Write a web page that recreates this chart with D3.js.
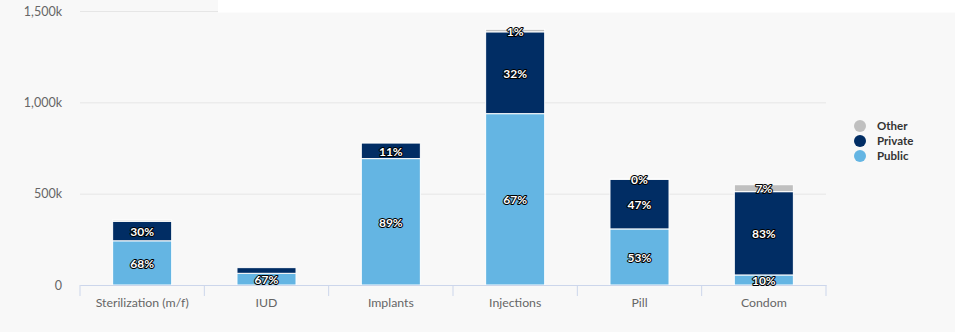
<!DOCTYPE html>
<html>
<head>
<meta charset="utf-8">
<script src="https://cdn.jsdelivr.net/npm/d3@7/dist/d3.min.js"></script>
<style>
  html, body { margin: 0; padding: 0; background: #f8f8f8; }
  svg { display: block; font-family: "Lato", "Open Sans", sans-serif; }
</style>
</head>
<body>
<svg id="chart" width="955" height="332"></svg>
<script>
// Contraceptive method users by source (thousands)
const categories = ["Sterilization (m/f)", "IUD", "Implants", "Injections", "Pill", "Condom"];
const publicValues  = [242, 64, 692, 938, 307, 55];
const privateValues = [107, 31, 85, 448, 272, 456];
const otherValues   = [7, 0, 0, 14, 1, 38];
const yTicks = [0, 500, 1000, 1500];

const seriesNames = ["Public", "Private", "Other"];
const colors = { Public: "#64b5e3", Private: "#012d64", Other: "#c0c0c0" };

const rows = categories.map((c, i) => ({
  category: c,
  Public: publicValues[i],
  Private: privateValues[i],
  Other: otherValues[i]
}));

const svg = d3.select("#chart");
const W = 955, H = 332;
const plotLeft = 80, plotRight = 826, plotTop = 11, plotBottom = 285;

svg.append("rect").attr("width", W).attr("height", H).attr("fill", "#f8f8f8");

const x = d3.scaleBand().domain(categories).range([plotLeft, plotRight]).padding(0);
const y = d3.scaleLinear().domain([0, 1500]).range([plotBottom, plotTop]);

// Horizontal grid lines and y tick labels
const fmt = v => v === 0 ? "0" : d3.format(",")(v) + "k";
const yAxis = svg.append("g")
  .attr("transform", `translate(${plotLeft},0)`)
  .call(d3.axisLeft(y).tickValues(yTicks).tickSize(-(plotRight - plotLeft)).tickPadding(18).tickFormat(fmt));
yAxis.select(".domain").remove();
yAxis.selectAll(".tick line").attr("stroke", "#e6e6e6").attr("stroke-width", 1);
yAxis.selectAll(".tick text")
  .attr("fill", "#666").attr("font-size", "12.5px").attr("font-family", "Lato, sans-serif");

// Stacked bars
const stack = d3.stack().keys(seriesNames);
const layers = stack(rows);
const barFrac = 0.475;
const bw = x.bandwidth() * barFrac;
const bx = d => x(d.data.category) + (x.bandwidth() - bw) / 2;

const barG = svg.append("g");
layers.forEach(layer => {
  barG.selectAll(null)
    .data(layer.filter(d => d[1] - d[0] > 0))
    .join("rect")
    .attr("x", bx)
    .attr("width", bw)
    .attr("y", d => y(d[1]))
    .attr("height", d => y(d[0]) - y(d[1]))
    .attr("fill", colors[layer.key])
    .attr("stroke", "#fff")
    .attr("stroke-width", 1);
});

// White band across the top right
svg.append("rect").attr("x", 218).attr("y", 0).attr("width", W - 218).attr("height", 12.5).attr("fill", "#fff");

// X axis
const xAxis = svg.append("g")
  .attr("transform", `translate(0,${plotBottom})`)
  .call(d3.axisBottom(x).tickSize(0).tickPadding(13));
xAxis.select(".domain").attr("stroke", "#ccd6eb");
xAxis.selectAll(".tick text")
  .attr("fill", "#666").attr("font-size", "12.3px").attr("font-family", "Lato, sans-serif");
// boundary tick marks between categories
const bounds = categories.map(c => x(c)).concat([plotRight]);
xAxis.selectAll(".bound")
  .data(bounds)
  .join("line")
  .attr("class", "bound")
  .attr("x1", d => d).attr("x2", d => d)
  .attr("y1", 0).attr("y2", 11)
  .attr("stroke", "#ccd6eb");

// Percentage labels, larger segments first, skip overlaps
const labels = [];
layers.forEach(layer => {
  layer.forEach((d, i) => {
    const v = d[1] - d[0];
    const total = publicValues[i] + privateValues[i] + otherValues[i];
    if (v <= 0) return;
    labels.push({
      v,
      text: Math.round(v / total * 100) + "%",
      cx: bx(d) + bw / 2,
      cy: (y(d[0]) + y(d[1])) / 2
    });
  });
});
labels.sort((a, b) => b.v - a.v);
const placed = [];
const lblG = svg.append("g");
labels.forEach(l => {
  const box = { x0: l.cx - 13, x1: l.cx + 13, y0: l.cy - 6, y1: l.cy + 6 };
  const hit = placed.some(p => !(box.x1 <= p.x0 || box.x0 >= p.x1 || box.y1 <= p.y0 || box.y0 >= p.y1));
  if (hit) return;
  placed.push(box);
  lblG.append("text")
    .attr("x", l.cx).attr("y", l.cy + 5)
    .attr("text-anchor", "middle")
    .attr("font-size", "12px").attr("font-weight", "bold")
    .attr("fill", "#fff")
    .attr("stroke", "#000").attr("stroke-width", 2).attr("stroke-linejoin", "round")
    .attr("paint-order", "stroke")
    .text(l.text);
});

// Legend
const legendItems = ["Other", "Private", "Public"];
const lg = svg.append("g").attr("transform", "translate(860,126)");
legendItems.forEach((k, i) => {
  const g = lg.append("g").attr("transform", `translate(0,${i * 15})`);
  g.append("circle").attr("r", 6).attr("fill", colors[k]);
  g.append("text").attr("x", 17).attr("y", 4)
    .attr("font-size", "11.5px").attr("font-weight", "bold").attr("fill", "#333")
    .text(k);
});
</script>
</body>
</html>
